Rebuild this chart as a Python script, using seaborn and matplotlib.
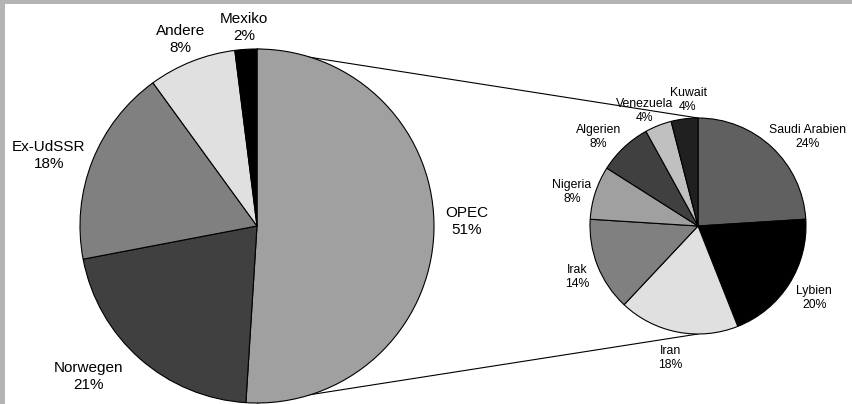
import numpy as np
import matplotlib.pyplot as plt
import seaborn as sns
from matplotlib.patches import Rectangle

# Oil import shares (%), main pie and the OPEC breakdown
main_labels = ['OPEC', 'Norwegen', 'Ex-UdSSR', 'Andere', 'Mexiko']
main_values = [51, 21, 18, 8, 2]
main_colors = ['#a0a0a0', '#404040', '#808080', '#e0e0e0', '#000000']

opec_labels = ['Saudi Arabien', 'Lybien', 'Iran', 'Irak', 'Nigeria',
               'Algerien', 'Venezuela', 'Kuwait']
opec_values = [24, 20, 18, 14, 8, 8, 4, 4]
opec_colors = ['#606060', '#000000', '#e0e0e0', '#808080', '#a0a0a0',
               '#404040', '#c0c0c0', '#202020']

# small label nudges (pixels, right / down) to mimic the original placement
main_nudge = [(3, -11), (-23, -14), (1, 12), (0, 7), (0, 3)]
opec_nudge = [(8, 19), (3, 0), (-4, 7), (-2, 4), (2, 8), (-6, 11), (-4, 10), (6, 0)]

sns.set_style('white')
plt.rcParams['font.family'] = ['Liberation Sans', 'DejaVu Sans']

W, H = 853, 404
fig = plt.figure(figsize=(W / 100, H / 100), dpi=100, facecolor='#b4b4b4')
ax = fig.add_axes([0, 0, 1, 1])
ax.set_facecolor('none')

# white plot area inside the grey frame (data units = pixels)
ax.add_patch(Rectangle((5, 0), W - 5, H - 4, facecolor='white', edgecolor='none', zorder=0))

main_c, main_r = (257, 178), 177
opec_c, opec_r = (698, 178), 108

wedge_kw = dict(edgecolor='black', linewidth=0.8)
main_wedges, _ = ax.pie(main_values, colors=main_colors, startangle=90, counterclock=False,
                        center=main_c, radius=main_r, frame=True, wedgeprops=wedge_kw)
opec_wedges, _ = ax.pie(opec_values, colors=opec_colors, startangle=90, counterclock=False,
                        center=opec_c, radius=opec_r, frame=True, wedgeprops=wedge_kw)

# connector lines between the two pies
for sign in (1, -1):
    ax.plot([main_c[0], opec_c[0]], [main_c[1] + sign * main_r, opec_c[1] + sign * opec_r],
            color='black', lw=0.8, zorder=0.5)

ax.set_xlim(0, W)
ax.set_ylim(0, H)
ax.set_aspect('equal')
ax.set_axis_off()

fig.canvas.draw()
renderer = fig.canvas.get_renderer()


def place_labels(wedges, names, values, nudges, center, r, size, gap):
    cx, cy = center
    for w, name, v, (nx, ny) in zip(wedges, names, values, nudges):
        ang = np.deg2rad((w.theta1 + w.theta2) / 2)
        t = ax.text(cx, cy, f'{name}\n{v}%', ha='center', va='center',
                    fontsize=size, linespacing=1.25, color='black')
        bb = t.get_window_extent(renderer)
        d = r + gap + bb.width / 2 * abs(np.cos(ang)) + bb.height / 2 * abs(np.sin(ang))
        t.set_position((cx + d * np.cos(ang) + nx, cy + d * np.sin(ang) - ny))


place_labels(main_wedges, main_labels, main_values, main_nudge, main_c, main_r, 11, 8)
place_labels(opec_wedges, opec_labels, opec_values, opec_nudge, opec_c, opec_r, 8.8, 4)

plt.savefig('out.png', dpi=100, facecolor=fig.get_facecolor())
